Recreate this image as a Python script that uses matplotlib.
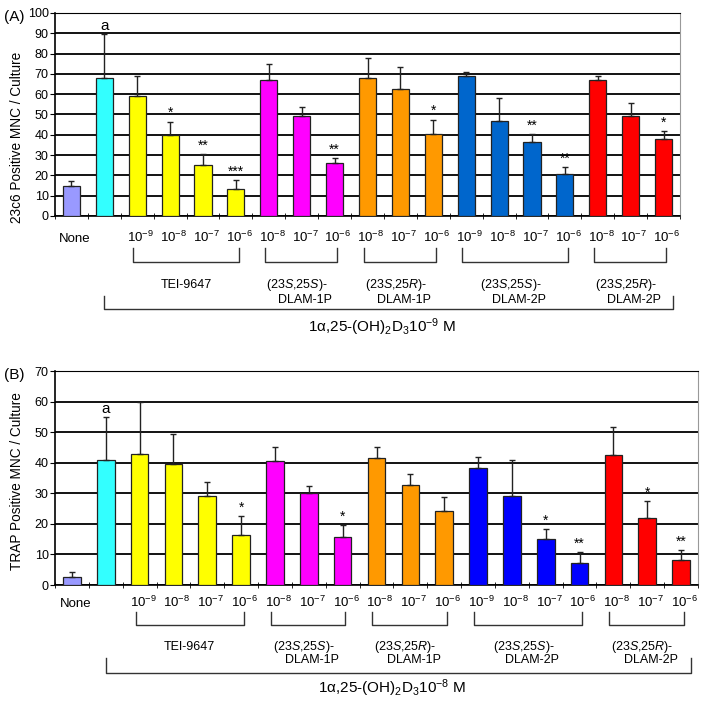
import numpy as np
import matplotlib
matplotlib.use('Agg')
import matplotlib.pyplot as plt
from matplotlib.transforms import blended_transform_factory

plt.rcParams['font.family'] = ['Liberation Sans', 'DejaVu Sans']
plt.rcParams['mathtext.fontset'] = 'custom'
plt.rcParams['mathtext.rm'] = 'Liberation Sans'
plt.rcParams['mathtext.it'] = 'Liberation Sans:italic'

# category tick labels (same in both panels)
cats = ['None', '', '10$^{-9}$', '10$^{-8}$', '10$^{-7}$', '10$^{-6}$',
        '10$^{-8}$', '10$^{-7}$', '10$^{-6}$',
        '10$^{-8}$', '10$^{-7}$', '10$^{-6}$',
        '10$^{-9}$', '10$^{-8}$', '10$^{-7}$', '10$^{-6}$',
        '10$^{-8}$', '10$^{-7}$', '10$^{-6}$']

# panel A: 23c6 positive MNC
a_vals = [15, 68, 59, 40, 25, 13.5, 67, 49.5, 26, 68, 62.5, 40.5, 69, 47, 36.5, 20.5, 67, 49.5, 38]
a_err = [2, 21.5, 10, 6.5, 5.5, 4, 8, 4, 2.7, 10, 11, 7, 2, 11, 4, 3.6, 2, 6, 4]
a_marks = ['', 'a', '', '*', '**', '***', '', '', '**', '', '', '*', '', '', '**', '**', '', '', '*']

# panel B: TRAP positive MNC
b_vals = [2.7, 41, 43, 39.5, 29, 16.5, 40.6, 30.2, 15.7, 41.7, 32.7, 24.2, 38.2, 29.2, 15, 7.3, 42.5, 21.8, 8.2]
b_err = [1.7, 13.8, 17, 9.8, 4.6, 6.1, 4.7, 2.1, 3.8, 3.6, 3.7, 4.5, 3.7, 11.6, 3.4, 3.45, 9.2, 5.7, 3.1]
b_marks = ['', 'a', '', '', '', '*', '', '', '*', '', '', '', '', '', '*', '**', '', '*', '**']

# groups: name lines, first bar, last bar
group_l1 = ['TEI-9647', '(23$\\it{S}$,25$\\it{S}$)-', '(23$\\it{S}$,25$\\it{R}$)-',
            '(23$\\it{S}$,25$\\it{S}$)-', '(23$\\it{S}$,25$\\it{R}$)-']
group_l2 = ['', 'DLAM-1P', 'DLAM-1P', 'DLAM-2P', 'DLAM-2P']
group_first = [2, 6, 9, 12, 16]
group_last = [5, 8, 11, 15, 18]

col_none = '#9999FF'
col_cyan = '#33FFFF'
col_yel = '#FFFF00'
col_mag = '#FF00FF'
col_org = '#FF9900'
col_red = '#FF0000'
a_blue = '#0066CC'
b_blue = '#0000FF'

W, H = 706, 705
fig = plt.figure(figsize=(W / 100, H / 100), dpi=100)


def fy(py):
    return 1 - py / H


def panel(left, right, top, bottom, vals, errs, marks, blue, ymax, ylabel, lab_y, tag, dose, ys):
    ax = fig.add_axes([left / W, fy(bottom), (right - left) / W, (bottom - top) / H])
    cols = [col_none, col_cyan] + [col_yel] * 4 + [col_mag] * 3 + [col_org] * 3 + [blue] * 4 + [col_red] * 3
    x = np.arange(len(vals))
    ax.bar(x, vals, width=0.52, color=cols, edgecolor='#222222', linewidth=0.9, zorder=3)
    ax.errorbar(x, vals, yerr=[np.zeros(len(errs)), errs], fmt='none', ecolor='#222222',
                elinewidth=1, capsize=2.5, capthick=1, zorder=4)
    for i, m in enumerate(marks):
        if m:
            fs = 11 if m == 'a' else 10
            ax.annotate(m, (x[i], vals[i] + errs[i]), xytext=(0, 1), textcoords='offset points',
                        ha='center', va='bottom', fontsize=fs, zorder=5)
    ax.set_xlim(-0.5, len(vals) - 0.5)
    ax.set_ylim(0, ymax)
    ax.set_yticks(np.arange(0, ymax + 1, 10))
    ax.yaxis.grid(True, color='black', linewidth=1.3)
    ax.set_axisbelow(True)
    ax.tick_params(axis='y', labelsize=9, length=3.5, pad=1)
    ax.set_xticks([])
    ax.set_xticks(np.arange(-0.5, len(vals)), minor=True)
    ax.tick_params(axis='x', which='minor', length=4, direction='inout')
    ax.spines['top'].set_color('black')
    ax.spines['right'].set_color('#999999')
    ax.spines['left'].set_linewidth(1.2)
    ax.spines['bottom'].set_linewidth(1.2)
    ax.set_ylabel(ylabel, fontsize=9.8)
    ax.yaxis.set_label_coords((24 - left) / (right - left), (bottom - lab_y) / (bottom - top))
    fig.text(4 / W, fy(top + 4), tag, fontsize=11, va='center', ha='left')

    tr = blended_transform_factory(ax.transData, fig.transFigure)
    for i, c in enumerate(cats):
        if c:
            ax.text(x[i] + 0.1, fy(ys[0]), c, transform=tr, ha='center', va='baseline', fontsize=9.5)
    for n in range(len(group_l1)):
        x0 = group_first[n] - 0.12
        x1 = group_last[n] + 0.08
        ax.plot([x0, x0, x1, x1], [fy(ys[1]), fy(ys[2]), fy(ys[2]), fy(ys[1])],
                color='#333333', lw=1, transform=tr, clip_on=False)
        xc = (x0 + x1) / 2
        if group_l2[n]:
            ax.annotate(group_l1[n], (xc, fy(ys[3])), xycoords=tr, xytext=(-4, 0),
                        textcoords='offset pixels', ha='center', va='center', fontsize=9)
            ax.annotate(group_l2[n], (xc, fy(ys[4])), xycoords=tr, xytext=(4, 0),
                        textcoords='offset pixels', ha='center', va='center', fontsize=9)
        else:
            ax.text(xc, fy(ys[3]), group_l1[n], transform=tr, ha='center', va='center', fontsize=9)
    bx0, bx1 = 1.0, 18.3
    ax.plot([bx0, bx0, bx1, bx1], [fy(ys[5]), fy(ys[6]), fy(ys[6]), fy(ys[5])],
            color='#333333', lw=1, transform=tr, clip_on=False)
    ax.text(9.45, fy(ys[7]), '1\u03b1,25-(OH)$_2$D$_3$10$^{%d}$ M' % dose, transform=tr,
            ha='center', va='center', fontsize=11)
    return ax


panel(55, 680, 13, 216, a_vals, a_err, a_marks, a_blue, 100,
      '23c6 Positive MNC / Culture', 137, '(A)', -9,
      [242, 248, 262, 285, 300, 296, 309, 327])
panel(55, 698, 371, 585, b_vals, b_err, b_marks, b_blue, 70,
      'TRAP Positive MNC / Culture', 481, '(B)', -8,
      [607, 612, 625, 647, 660, 658, 673, 688])

fig.savefig('out.png', dpi=100)
